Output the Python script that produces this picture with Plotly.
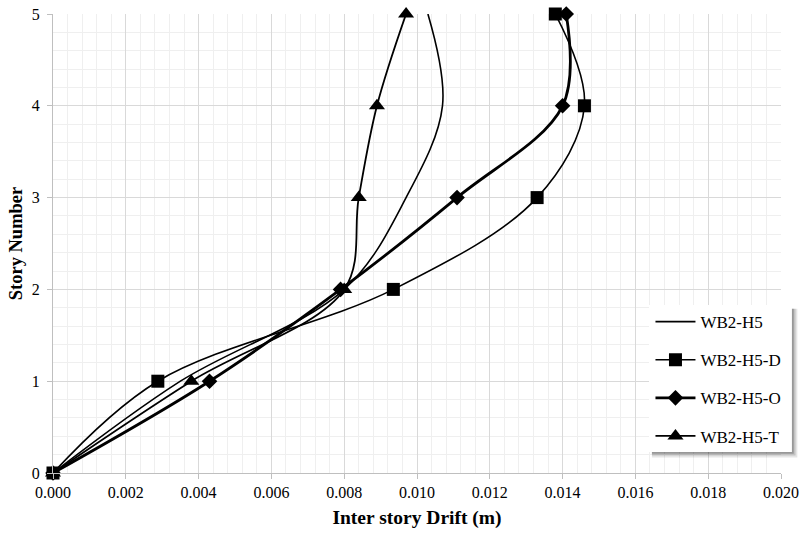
import plotly.graph_objects as go

stories = [0, 1, 2, 3, 4, 5]
wb2_h5 = [0.0, 0.0035, 0.0080, 0.0097, 0.0107, 0.0103]
wb2_h5_d = [0.0, 0.00288, 0.00935, 0.0133, 0.0146, 0.0138]
wb2_h5_o = [0.0, 0.0043, 0.0079, 0.0111, 0.0140, 0.0141]
wb2_h5_t = [0.0, 0.0038, 0.0080, 0.0084, 0.0089, 0.0097]

x_ticks = [0.000, 0.002, 0.004, 0.006, 0.008, 0.010, 0.012, 0.014, 0.016, 0.018, 0.020]
x_tick_labels = ["%.3f" % v for v in x_ticks]

FONT = "Liberation Serif, Times New Roman, serif"

fig = go.Figure()
series = [
    ("WB2-H5", wb2_h5, None, 12, 1.6),
    ("WB2-H5-D", wb2_h5_d, "square", 13, 1.6),
    ("WB2-H5-O", wb2_h5_o, "diamond", 12, 2.8),
    ("WB2-H5-T", wb2_h5_t, "triangle-up", 14, 1.8),
]
for i, (name, vals, sym, msize, lw) in enumerate(series):
    fig.add_trace(go.Scatter(
        x=vals, y=stories, name=name,
        mode="lines" if sym is None else "lines+markers",
        line=dict(color="black", width=lw, shape="spline", smoothing=1),
        marker=dict(symbol=sym or "circle", size=msize, color="black"),
        legendgroup=name, cliponaxis=False,
    ))

# legend box with shadow
lx0, lx1, ly0, ly1 = 0.8187, 1.015, 0.046, 0.366
for k, op in enumerate([0.10, 0.15, 0.22]):
    d = 0.0025 * (3 - k)
    fig.add_shape(type="rect", xref="paper", yref="paper",
                  x0=lx0 + 0.004, x1=lx1 + d, y0=ly0 - d * 1.6, y1=ly1 - 0.008,
                  fillcolor="rgba(0,0,0,%.2f)" % op, line=dict(width=0), layer="above")
fig.add_shape(type="rect", xref="paper", yref="paper",
              x0=lx0, x1=lx1, y0=ly0, y1=ly1,
              fillcolor="white", line=dict(width=0), layer="above")

fig.update_layout(
    width=801, height=537,
    margin=dict(l=53, r=20, t=14, b=64),
    paper_bgcolor="white", plot_bgcolor="white",
    font=dict(family=FONT, color="black", size=16),
    showlegend=True,
    legend=dict(x=lx0 + 0.002, y=ly1 + 0.002, xanchor="left", yanchor="top",
                bgcolor="rgba(0,0,0,0)", borderwidth=0,
                font=dict(family=FONT, size=17, color="black"),
                tracegroupgap=13, itemwidth=40),
    xaxis=dict(
        range=[0, 0.020], tickvals=x_ticks, ticktext=x_tick_labels,
        showgrid=True, gridcolor="#d9d9d9", gridwidth=1,
        minor=dict(dtick=0.0004, showgrid=True, gridcolor="#efefef", gridwidth=1),
        showline=True, linecolor="#bfbfbf", linewidth=1,
        ticks="outside", ticklen=5, tickcolor="#bfbfbf",
        zeroline=False, automargin=False,
        title=dict(text="<b>Inter story Drift (m)</b>", font=dict(size=19.5, family=FONT), standoff=10),
        tickfont=dict(size=16, family=FONT),
    ),
    yaxis=dict(
        range=[0, 5], dtick=1,
        showgrid=True, gridcolor="#d9d9d9", gridwidth=1,
        minor=dict(dtick=0.2, showgrid=True, gridcolor="#efefef", gridwidth=1),
        showline=True, linecolor="#bfbfbf", linewidth=1,
        ticks="outside", ticklen=5, tickcolor="#bfbfbf",
        zeroline=False, automargin=False, ticklabelstandoff=4,
        title=dict(text="<b>Story Number</b>", font=dict(size=18.5, family=FONT), standoff=4),
        tickfont=dict(size=16, family=FONT),
    ),
)

fig.write_html("out.html", config={"displayModeBar": False},
               post_script="document.body.style.margin='0';")
